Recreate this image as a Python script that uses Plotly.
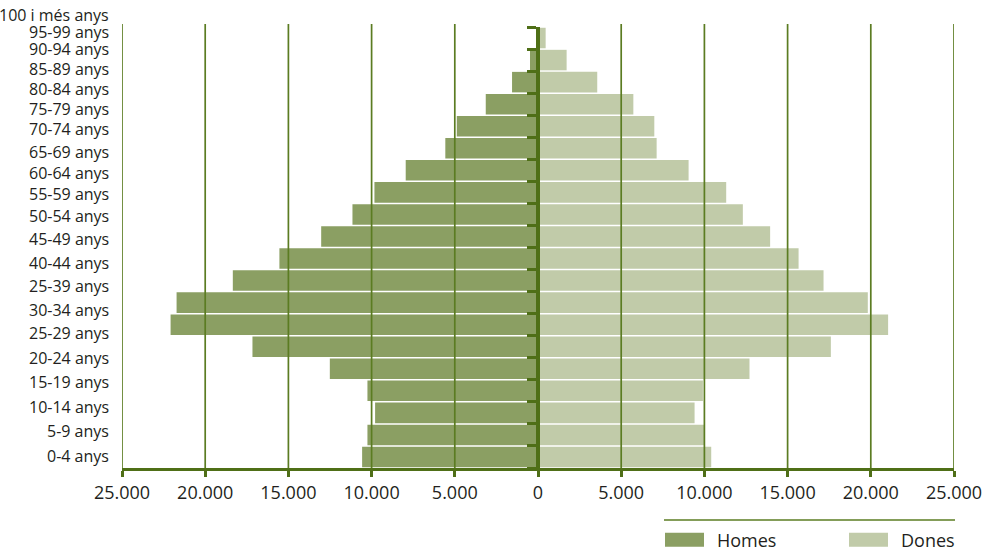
import plotly.graph_objects as go

# Age labels as printed down the left side (top to bottom)
AXIS_LABELS = [
    "100 i més anys", "95-99 anys", "90-94 anys", "85-89 anys", "80-84 anys",
    "75-79 anys", "70-74 anys", "65-69 anys", "60-64 anys", "55-59 anys",
    "50-54 anys", "45-49 anys", "40-44 anys", "25-39 anys", "30-34 anys",
    "25-29 anys", "20-24 anys", "15-19 anys", "10-14 anys", "5-9 anys", "0-4 anys",
]
# Bar groups (top to bottom)
AGE_GROUPS = AXIS_LABELS[1:]
HOMES = [90, 480, 1560, 3140, 4880, 5570, 7950, 9830, 11150, 13030,
         15540, 18340, 21720, 22080, 17160, 12510, 10250, 9790, 10250, 10570]
DONES = [460, 1720, 3560, 5730, 6990, 7130, 9050, 11310, 12310, 13950,
         15660, 17160, 19820, 21040, 17600, 12710, 9910, 9410, 10030, 10410]

X_TICKS = [-25000, -20000, -15000, -10000, -5000, 0, 5000, 10000, 15000, 20000, 25000]
X_TICK_TEXT = ["25.000", "20.000", "15.000", "10.000", "5.000", "0",
               "5.000", "10.000", "15.000", "20.000", "25.000"]

# Layout / style
W, H = 997, 558
M_L, M_R, M_T, M_B = 122, 43, 27, 90
PLOT_W = W - M_L - M_R
PLOT_H = H - M_T - M_B
LABEL_Y_PX = [15.3, 32.3, 49.3, 69.3, 89, 109, 129, 151.7, 172.7, 194, 216.3,
              239.3, 262.7, 286, 309.7, 333.3, 358.3, 382.3, 406.7, 431, 455.7]

C_HOMES = "#8b9f63"
C_DONES = "#c1cba9"
C_AXIS = "#4f6f17"
C_GRID = "#5b7c22"
C_TEXT = "#231f20"
FONT = "Open Sans"


def px_x(p):
    return (p - M_L) / PLOT_W


def px_y(p):
    return (H - M_B - p) / PLOT_H


fig = go.Figure()
fig.add_trace(go.Bar(
    y=AGE_GROUPS, x=[-v for v in HOMES], orientation="h", name="Homes",
    marker=dict(color=C_HOMES, line=dict(width=0)),
))
fig.add_trace(go.Bar(
    y=AGE_GROUPS, x=DONES, orientation="h", name="Dones",
    marker=dict(color=C_DONES, line=dict(width=0)),
))

shapes = []
# vertical grid lines drawn over the bars
for v in X_TICKS:
    if v == 0:
        continue
    shapes.append(dict(type="line", xref="x", yref="paper", x0=v, x1=v,
                       y0=0, y1=1.007, line=dict(color=C_GRID, width=1.7),
                       layer="above"))

# legend: rule and swatches
shapes.append(dict(type="line", xref="paper", yref="paper",
                   x0=px_x(664), x1=px_x(955), y0=px_y(520), y1=px_y(520),
                   line=dict(color=C_GRID, width=1.5)))
annotations = []
for name, color, x0 in [("Homes", C_HOMES, 665), ("Dones", C_DONES, 849)]:
    shapes.append(dict(type="rect", xref="paper", yref="paper",
                       x0=px_x(x0), x1=px_x(x0 + 39),
                       y0=px_y(546.7), y1=px_y(532.7),
                       fillcolor=color, line=dict(width=0)))
    annotations.append(dict(text=name, xref="paper", yref="paper",
                            x=px_x(x0 + 50), y=px_y(540), xanchor="left",
                            yanchor="middle", showarrow=False,
                            font=dict(family=FONT, size=18, color=C_TEXT)))

# age labels on the left
for lab, py in zip(AXIS_LABELS, LABEL_Y_PX):
    annotations.append(dict(text=lab, xref="paper", yref="paper", x=0, y=px_y(py),
                            xanchor="right", yanchor="middle", xshift=-11,
                            showarrow=False,
                            font=dict(family=FONT, size=16, color=C_TEXT)))

fig.update_layout(
    width=W, height=H,
    margin=dict(l=M_L, r=M_R, t=M_T, b=M_B, pad=0),
    paper_bgcolor="white", plot_bgcolor="white",
    barmode="relative", bargap=0.07,
    showlegend=False,
    shapes=shapes, annotations=annotations,
    font=dict(family=FONT, color=C_TEXT),
    xaxis=dict(
        range=[-25000, 25000], tickvals=X_TICKS, ticktext=X_TICK_TEXT,
        showgrid=False, zeroline=False,
        showline=True, linecolor=C_AXIS, linewidth=3,
        ticks="outside", ticklen=6, tickwidth=3, tickcolor=C_AXIS,
        tickfont=dict(family=FONT, size=18, color=C_TEXT),
        layer="above traces", fixedrange=True,
    ),
    yaxis=dict(
        type="category", categoryorder="array",
        categoryarray=list(reversed(AGE_GROUPS)),
        anchor="free", position=0.5,
        showline=True, linecolor=C_AXIS, linewidth=4,
        ticks="outside", tickson="boundaries", ticklen=9, tickwidth=3,
        tickcolor=C_AXIS, showticklabels=False, showgrid=False,
        zeroline=False, layer="above traces", fixedrange=True,
    ),
)

fig.write_html("out.html")
